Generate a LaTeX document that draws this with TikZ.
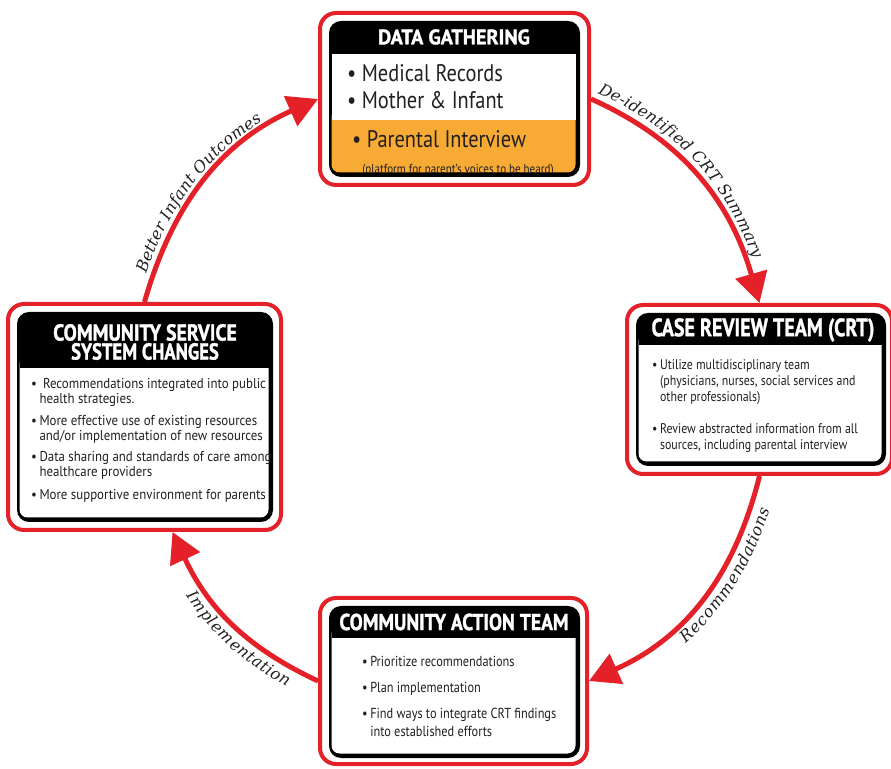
\documentclass[tikz,border=0pt]{standalone}
\usepackage{fontspec}
\usepackage{graphicx}
\usetikzlibrary{arrows.meta,decorations.text}
\newfontfamily\bodyfont[FakeStretch=0.85]{PT Sans}
\newfontfamily\cssfont[FakeStretch=0.9]{PT Sans}
\newfontfamily\headfont[BoldFeatures={FakeBold=1.5}]{PT Sans}
\newfontfamily\lblfont{DejaVu Serif}
\definecolor{myred}{RGB}{228,32,40}
\definecolor{myorange}{RGB}{247,170,52}
\definecolor{ink}{RGB}{35,31,32}
\newcommand\labelfmt{\lblfont\itshape\fontsize{16}{16}\selectfont\color{ink}}
\newcommand\bl{•\hspace{2.5pt}}
\newcommand\ind{\hphantom{\bl}}
\tikzset{
 frame/.style={draw=myred, line width=4pt, rounded corners=16pt, fill=white, inner sep=0pt, rectangle},
 head/.style={text=white, font=\headfont\bfseries\fontsize{21}{21}\selectfont, align=center, inner sep=0pt},
 big/.style={text=ink, font=\bodyfont\fontsize{24}{27}\selectfont, anchor=base west, inner sep=0pt},
 small/.style={text=ink, font=\bodyfont\fontsize{13}{13}\selectfont, anchor=base, inner sep=0pt},
 body/.style={text=ink, font=\bodyfont\fontsize{14}{16}\selectfont, anchor=base west, inner sep=0pt, align=left},
 cssbody/.style={body, font=\cssfont\fontsize{14.3}{15}\selectfont},
 flow/.style={draw=myred, line width=5pt, -{Triangle[length=30pt,width=32pt]}},
 arclabel/.style n args={3}{decorate, decoration={text along path, text align={#2}, raise=#1, text={|\labelfmt|#3}}},
}
\begin{document}
\begin{tikzpicture}[x=1pt,y=1pt]
\useasboundingbox (0,0) rectangle (891,768);
\fill[white] (0,0) rectangle (891,768);

% ---------- DATA GATHERING ----------
\node[frame, minimum width=269pt, minimum height=172pt] (dg) at (454.5,669) {};
\fill[black, rounded corners=12pt] (329,747) rectangle (580,591);
\fill[myorange, rounded corners=8pt] (331.5,660) rectangle (575.5,595.5);
\fill[white] (331.5,714) rectangle (575.5,648);
\node[head] (dgt) at (454,731) {\scalebox{0.96}[1]{DATA GATHERING}};
\node[big] (dg1) at (347,686) {• Medical Records};
\node[big] (dg2) at (347,659) {• Mother \& Infant};
\node[big] (dg3) at (352,620) {• Parental Interview};
\begin{scope}
\clip (331.5,595.5) rectangle (575.5,648);
\node[small] (dg4) at (458,594) {(platform for parent’s voices to be heard)};
\end{scope}

% ---------- CASE REVIEW TEAM ----------
\node[frame, minimum width=265pt, minimum height=169pt] (crt) at (759.5,378.5) {};
\fill[black, rounded corners=12pt] (636,455) rectangle (886,302);
\fill[white, rounded corners=8pt] (638.5,435) rectangle (881.5,306.5);
\fill[black] (638.5,423) rectangle (881.5,436);
\node[head] (crtt) at (763,438) {\scalebox{0.8}[1]{\fontsize{25}{25}\selectfont CASE REVIEW TEAM (CRT)}};
\node[body] (crt1) at (652,366) {\bl Utilize multidisciplinary team\\\ind(physicians, nurses, social services and\\\ind other professionals)};
\node[body] (crt2) at (652,318) {\bl Review abstracted information from all\\\ind sources, including parental interview};

% ---------- COMMUNITY SERVICE SYSTEM CHANGES ----------
\node[frame, minimum width=273pt, minimum height=226pt] (cssc) at (144.5,351) {};
\fill[black, rounded corners=12pt] (17,456) rectangle (273,246);
\fill[white, rounded corners=8pt] (19.5,412) rectangle (268.5,250.5);
\fill[black] (19.5,400) rectangle (268.5,413);
\node[head] (csst) at (145,426) {\scalebox{0.86}[1]{\fontsize{23}{23}\selectfont COMMUNITY SERVICE}\\[-2pt]\scalebox{0.81}[1]{\fontsize{23}{23}\selectfont SYSTEM CHANGES}};
\node[cssbody] (cs1) at (31,364) {•\hspace{6pt}Recommendations integrated into public\\\ind health strategies.};
\node[cssbody] (cs2) at (31,327) {\bl More effective use of existing resources\\\ind and/or implementation of new resources};
\node[cssbody] (cs3) at (31,291) {\bl Data sharing and standards of care among\\\ind healthcare providers};
\node[cssbody] (cs4) at (31,268) {\bl More supportive environment for parents};

% ---------- COMMUNITY ACTION TEAM ----------
\node[frame, minimum width=267pt, minimum height=166pt] (cat) at (453.5,87) {};
\fill[black, rounded corners=12pt] (329,162) rectangle (580,10);
\fill[white, rounded corners=8pt] (331.5,142) rectangle (575.5,14.5);
\fill[black] (331.5,130) rectangle (575.5,143);
\node[head] (catt) at (454,146) {\scalebox{0.85}[1]{\fontsize{23}{23}\selectfont COMMUNITY ACTION TEAM}};
\node[body, font=\bodyfont\fontsize{14.5}{18}\selectfont] (cat1) at (362,101) {\bl Prioritize recommendations};
\node[body, font=\bodyfont\fontsize{14.5}{18}\selectfont] (cat2) at (362,75) {\bl Plan implementation};
\node[body, font=\bodyfont\fontsize{14.5}{18}\selectfont] (cat3) at (362,31) {\bl Find ways to integrate CRT findings\\\ind into established efforts};

% ---------- connectors ----------
\coordinate (cs) at ([xshift=28pt]cssc.south);
\draw[flow] (cssc.north) to[out=74,in=204] (dg.west);
\draw[flow] (dg.east) to[out=-24,in=106] (crt.north);
\draw[flow] (crt.south) to[out=-104,in=24] (cat.east);
\draw[flow] (cat.west) to[out=155,in=-65] (cs);

\path[arclabel={7pt}{center, right indent=32pt}{Better Infant Outcomes}] (cssc.north) to[out=74,in=204] (dg.west);
\path[arclabel={8pt}{center, right indent=40pt}{De-identified CRT Summary}] (dg.east) to[out=-24,in=106] (crt.north);
\path[arclabel={-19pt}{center, left indent=70pt}{Recommendations}] (cat.east) to[out=24,in=-104] (crt.south);
\path[arclabel={-19pt}{center, left indent=36pt}{Implementation}] (cs) to[out=-65,in=155] (cat.west);
\end{tikzpicture}
\end{document}
